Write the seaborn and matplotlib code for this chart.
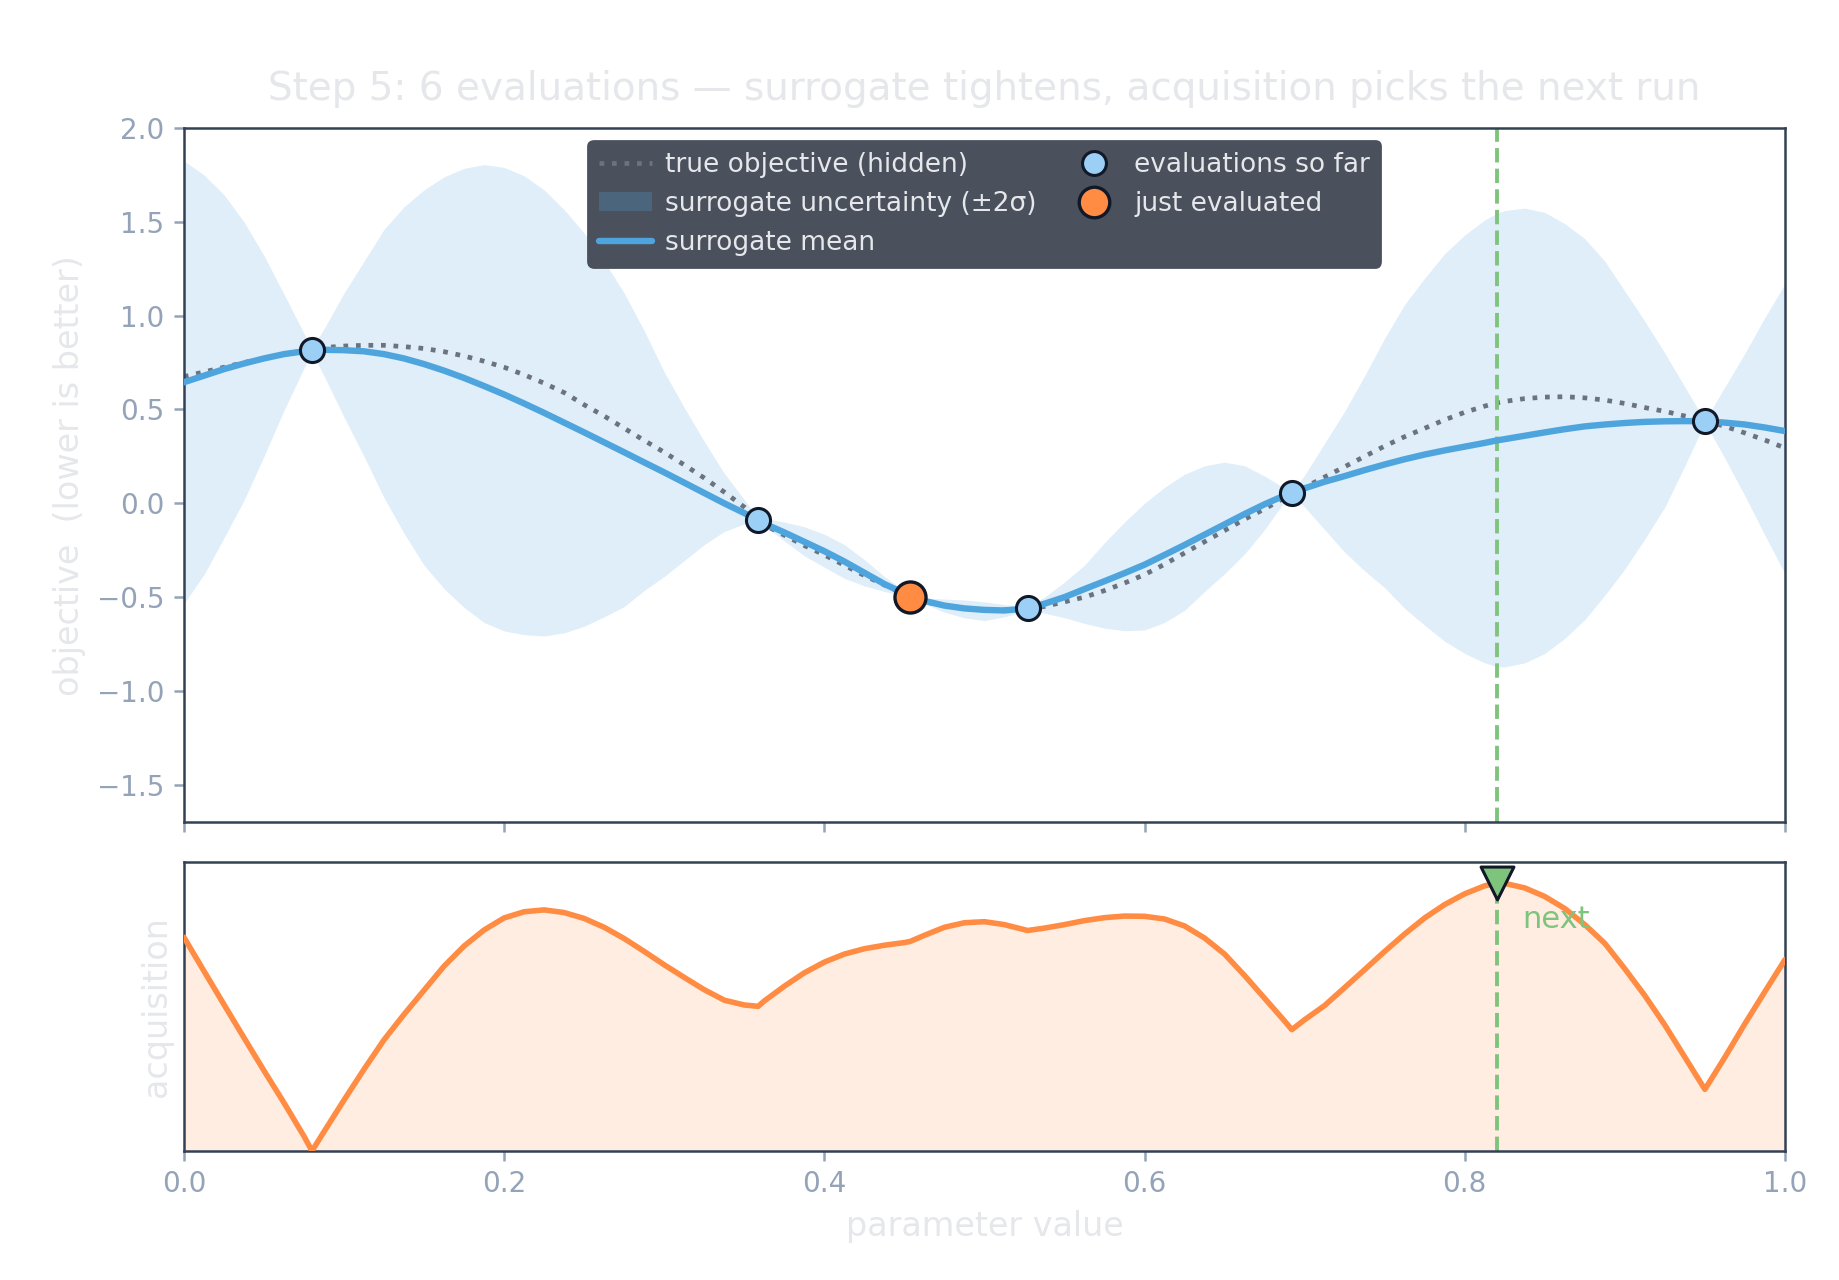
import numpy as np
import pandas as pd
import matplotlib
matplotlib.use("Agg")
import matplotlib.pyplot as plt
from matplotlib.patches import Patch
from matplotlib.lines import Line2D
import seaborn as sns

# ---------------- data ----------------
x_grid = [0.0, 0.0125, 0.025, 0.0375, 0.05, 0.0625, 0.075, 0.08,
          0.0875, 0.10, 0.1125, 0.125, 0.1375, 0.15, 0.1625, 0.175, 0.1875, 0.20, 0.2125,
          0.225, 0.2375, 0.25, 0.2625, 0.275, 0.2875, 0.30, 0.3125, 0.325, 0.3375, 0.35,
          0.3587,
          0.3625, 0.375, 0.3875, 0.40, 0.4125, 0.425, 0.4375, 0.45,
          0.4535,
          0.4625, 0.475, 0.4875, 0.50, 0.5125,
          0.527,
          0.5375, 0.55, 0.5625, 0.575, 0.5875, 0.60, 0.6125, 0.625, 0.6375, 0.65, 0.6625,
          0.675, 0.6875,
          0.692,
          0.70, 0.7125, 0.725, 0.7375, 0.75, 0.7625, 0.775, 0.7875, 0.80, 0.8125,
          0.82,
          0.825, 0.8375, 0.85, 0.8625, 0.875, 0.8875, 0.90, 0.9125, 0.925, 0.9375, 0.95,
          0.9625, 0.975, 0.9875, 1.0]

true_objective = [0.675, 0.70, 0.725, 0.75, 0.772, 0.795, 0.812, 0.82,
                  0.83, 0.838, 0.842, 0.842, 0.835, 0.825, 0.808, 0.785, 0.757, 0.725, 0.685,
                  0.64, 0.59, 0.525, 0.465, 0.40, 0.335, 0.272, 0.205, 0.135, 0.06, -0.02,
                  -0.09,
                  -0.115, -0.17, -0.225, -0.275, -0.33, -0.385, -0.435, -0.485,
                  -0.50,
                  -0.525, -0.545, -0.56, -0.568, -0.568,
                  -0.56,
                  -0.55, -0.525, -0.50, -0.465, -0.425, -0.38, -0.325, -0.265, -0.205, -0.145,
                  -0.085, -0.03, 0.03,
                  0.05,
                  0.085, 0.14, 0.195, 0.25, 0.305, 0.355, 0.40, 0.445, 0.485, 0.518,
                  0.535,
                  0.543, 0.558, 0.566, 0.568, 0.562, 0.55, 0.532, 0.51, 0.49, 0.465, 0.44,
                  0.41, 0.375, 0.337, 0.295]

surrogate_mean = [0.645, 0.68, 0.715, 0.745, 0.772, 0.795, 0.81, 0.815,
                  0.818, 0.816, 0.81, 0.795, 0.772, 0.742, 0.707, 0.668, 0.625, 0.58, 0.532,
                  0.482, 0.43, 0.378, 0.325, 0.272, 0.218, 0.165, 0.11, 0.055, 0.0, -0.052,
                  -0.09,
                  -0.108, -0.155, -0.205, -0.255, -0.31, -0.37, -0.43, -0.48,
                  -0.498,
                  -0.52, -0.545, -0.56, -0.568, -0.571,
                  -0.56,
                  -0.535, -0.50, -0.457, -0.415, -0.372, -0.327, -0.275, -0.222, -0.167, -0.112,
                  -0.057, -0.005, 0.042,
                  0.058,
                  0.08, 0.115, 0.145, 0.177, 0.207, 0.235, 0.26, 0.282, 0.302, 0.322,
                  0.335,
                  0.342, 0.36, 0.378, 0.395, 0.41, 0.42, 0.428, 0.434, 0.437, 0.438, 0.437,
                  0.43, 0.42, 0.404, 0.385]

band_upper = [1.825, 1.75, 1.645, 1.50, 1.32, 1.115, 0.905, 0.825,
              0.93, 1.12, 1.29, 1.46, 1.58, 1.67, 1.74, 1.785, 1.805, 1.79, 1.745,
              1.67, 1.565, 1.44, 1.29, 1.12, 0.92, 0.70, 0.51, 0.33, 0.16, 0.02,
              -0.08,
              -0.08, -0.10, -0.125, -0.165, -0.22, -0.30, -0.39, -0.465,
              -0.49,
              -0.505, -0.51, -0.515, -0.525, -0.54,
              -0.55,
              -0.50, -0.42, -0.33, -0.21, -0.10, 0.0, 0.085, 0.155, 0.20, 0.219,
              0.20, 0.145, 0.08,
              0.06,
              0.15, 0.32, 0.49, 0.68, 0.88, 1.06, 1.20, 1.33, 1.43, 1.51,
              1.545,
              1.56, 1.573, 1.55, 1.49, 1.41, 1.29, 1.13, 0.97, 0.80, 0.62, 0.44,
              0.62, 0.80, 0.99, 1.17]

band_lower = [-0.535, -0.38, -0.185, 0.015, 0.25, 0.495, 0.72, 0.805,
              0.68, 0.46, 0.25, 0.03, -0.16, -0.33, -0.455, -0.555, -0.635, -0.68, -0.70,
              -0.707, -0.69, -0.655, -0.605, -0.55, -0.465, -0.39, -0.305, -0.22, -0.15, -0.11,
              -0.10,
              -0.12, -0.20, -0.28, -0.34, -0.40, -0.44, -0.47, -0.495,
              -0.505,
              -0.535, -0.58, -0.61, -0.625, -0.605,
              -0.57,
              -0.585, -0.61, -0.64, -0.665, -0.679, -0.675, -0.635, -0.57, -0.47, -0.375,
              -0.27, -0.14, 0.01,
              0.05,
              -0.02, -0.14, -0.26, -0.36, -0.45, -0.56, -0.65, -0.735, -0.80, -0.85,
              -0.87,
              -0.872, -0.85, -0.80, -0.72, -0.62, -0.49, -0.35, -0.19, -0.02, 0.20, 0.43,
              0.24, 0.04, -0.17, -0.375]

acquisition = [0.798, 0.672, 0.547, 0.423, 0.30, 0.18, 0.055, 0.0,
               0.072, 0.19, 0.305, 0.415, 0.51, 0.60, 0.69, 0.765, 0.825, 0.87, 0.893,
               0.90, 0.89, 0.868, 0.835, 0.793, 0.745, 0.695, 0.648, 0.602, 0.563, 0.545,
               0.54,
               0.56, 0.615, 0.665, 0.705, 0.735, 0.755, 0.768, 0.778,
               0.782,
               0.805, 0.835, 0.852, 0.856, 0.845,
               0.823,
               0.832, 0.845, 0.86, 0.871, 0.877, 0.876, 0.866, 0.84, 0.795, 0.735,
               0.655, 0.57, 0.485,
               0.453,
               0.49, 0.543, 0.61, 0.677, 0.745, 0.81, 0.87, 0.92, 0.96, 0.99,
               1.0,
               0.999, 0.982, 0.95, 0.905, 0.845, 0.775, 0.68, 0.58, 0.47, 0.35, 0.23,
               0.35, 0.475, 0.595, 0.714]

eval_x = [0.080, 0.3587, 0.527, 0.692, 0.950]
eval_y = [0.818, -0.09, -0.56, 0.057, 0.437]
just_x = [0.4535]
just_y = [-0.498]
next_x = 0.82
next_acq = 1.0

title = "Step 5: 6 evaluations \u2014 surrogate tightens, acquisition picks the next run"
x_ticks = [0.0, 0.2, 0.4, 0.6, 0.8, 1.0]
y_ticks = [-1.5, -1.0, -0.5, 0.0, 0.5, 1.0, 1.5, 2.0]

df = pd.DataFrame({"x": x_grid, "f": true_objective, "mu": surrogate_mean,
                   "hi": band_upper, "lo": band_lower, "acq": acquisition})

# ---------------- style ----------------
sns.set_theme(style="ticks")
plt.rcParams["font.family"] = ["DejaVu Sans"]

TICK_C = "#94a3b8"
SPINE_C = "#334155"
LIGHT_TXT = "#e5e7eb"
BLUE = "#4ea5de"
GRAY = "#6b7280"
ORANGE = "#ff8c42"
EVAL_C = "#9bcff5"
GREEN = "#7fc47c"
EDGE = "#111827"

fig = plt.figure(figsize=(9.195, 6.4), dpi=200)
gs = fig.add_gridspec(2, 1, height_ratios=[2.4, 1], left=0.1, right=0.9706,
                      top=0.9, bottom=0.1008, hspace=0.08)
ax = fig.add_subplot(gs[0])
ax2 = fig.add_subplot(gs[1], sharex=ax)

for a in (ax, ax2):
    for s in a.spines.values():
        s.set_color(SPINE_C)
        s.set_linewidth(0.9)
    a.tick_params(colors=TICK_C, labelsize=10, length=3.5, width=0.9)
    a.set_facecolor("white")

# ---------------- top panel ----------------
ax.fill_between(df["x"], df["lo"], df["hi"], color=BLUE, alpha=0.18, linewidth=0, zorder=1)
sns.lineplot(data=df, x="x", y="f", ax=ax, color=GRAY, linestyle=":", linewidth=1.7,
             zorder=2, legend=False)
sns.lineplot(data=df, x="x", y="mu", ax=ax, color=BLUE, linewidth=2.3, zorder=3, legend=False)
ax.axvline(next_x, color=GREEN, linestyle="--", linewidth=1.4, zorder=2)
sns.scatterplot(x=eval_x, y=eval_y, ax=ax, s=75, color=EVAL_C, edgecolor=EDGE,
                linewidth=1.1, zorder=5, legend=False)
sns.scatterplot(x=just_x, y=just_y, ax=ax, s=125, color=ORANGE, edgecolor=EDGE,
                linewidth=1.2, zorder=6, legend=False)

ax.set_xlim(0, 1)
ax.set_ylim(-1.7, 2.0)
ax.set_yticks(y_ticks)
ax.set_xticks(x_ticks)
ax.tick_params(axis="x", labelbottom=False)
ax.set_xlabel("")
ax.set_ylabel("objective  (lower is better)", color=LIGHT_TXT, fontsize=12)
ax.set_title(title, color=LIGHT_TXT, fontsize=14, pad=10)

handles = [
    Line2D([], [], color=GRAY, linestyle=":", linewidth=1.7),
    Patch(facecolor=BLUE, alpha=0.25, edgecolor="none"),
    Line2D([], [], color=BLUE, linewidth=2.3),
    Line2D([], [], marker="o", linestyle="none", markersize=8.6, markerfacecolor=EVAL_C,
           markeredgecolor=EDGE, markeredgewidth=1.1),
    Line2D([], [], marker="o", linestyle="none", markersize=11, markerfacecolor=ORANGE,
           markeredgecolor=EDGE, markeredgewidth=1.2),
]
labels = ["true objective (hidden)", "surrogate uncertainty (\u00b12\u03c3)", "surrogate mean",
          "evaluations so far", "just evaluated"]
leg = ax.legend(handles, labels, loc="upper center", ncol=2, fontsize=9.5,
                frameon=True, facecolor="#4a505c", edgecolor="#4a505c", framealpha=1.0,
                labelcolor=LIGHT_TXT, borderaxespad=0.5, columnspacing=1.2,
                handlelength=2.0, handletextpad=0.5, fancybox=True)
leg.set_zorder(10)

# ---------------- bottom panel ----------------
ax2.fill_between(df["x"], 0, df["acq"], color=ORANGE, alpha=0.15, linewidth=0, zorder=1)
sns.lineplot(data=df, x="x", y="acq", ax=ax2, color=ORANGE, linewidth=2.0, zorder=3,
             legend=False)
ax2.axvline(next_x, color=GREEN, linestyle="--", linewidth=1.4, zorder=2)
sns.scatterplot(x=[next_x], y=[next_acq], ax=ax2, marker="v", s=140, color=GREEN,
                edgecolor=EDGE, linewidth=1.1, zorder=6, legend=False)
ax2.text(next_x + 0.016, 0.80, "next", transform=ax2.get_xaxis_transform(),
         color=GREEN, fontsize=11, va="center", ha="left")
ax2.set_ylim(0, next_acq * 1.08)
ax2.set_yticks([])
ax2.set_xlim(0, 1)
ax2.set_xticks(x_ticks)
ax2.set_xlabel("parameter value", color=LIGHT_TXT, fontsize=12)
ax2.set_ylabel("acquisition", color=LIGHT_TXT, fontsize=12)

fig.savefig("out.png", dpi=200)
